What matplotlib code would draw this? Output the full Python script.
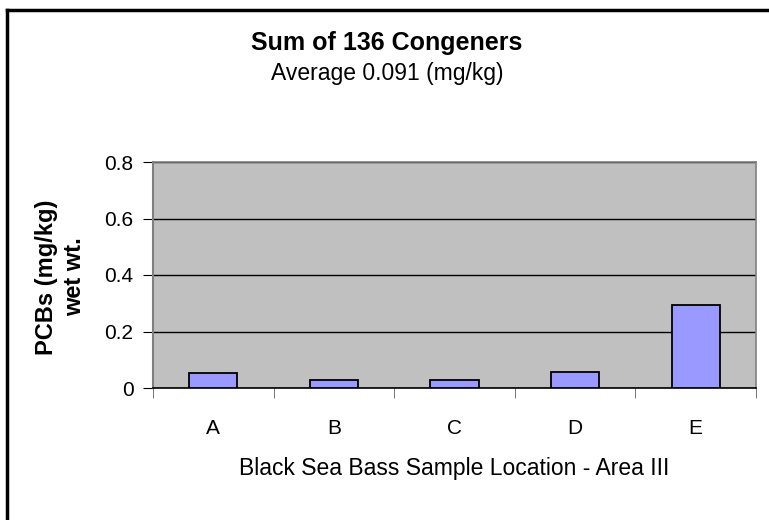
import matplotlib.pyplot as plt
from matplotlib.lines import Line2D
import numpy as np

plt.rcParams['font.family'] = ['Liberation Sans', 'DejaVu Sans']

locations = ['A', 'B', 'C', 'D', 'E']
pcbs = [0.053, 0.030, 0.028, 0.058, 0.293]
yticks = [0, 0.2, 0.4, 0.6, 0.8]
ytick_labels = ['0', '0.2', '0.4', '0.6', '0.8']

fig = plt.figure(figsize=(7.69, 5.2), dpi=100)
ax = fig.add_axes([153/769, 1-388/520, (756-153)/769, (388-162)/520])
ax.set_facecolor('#C0C0C0')

x = np.arange(len(locations))
ax.bar(x, pcbs, width=0.4, color='#9999FF', edgecolor='black', linewidth=1.3, zorder=3)

ax.set_ylim(0, 0.8)
ax.set_xlim(-0.5, len(locations) - 0.5)
ax.set_yticks(yticks)
ax.set_yticklabels(ytick_labels)
ax.yaxis.grid(True, color='black', linewidth=1, zorder=1)
ax.set_axisbelow(True)

ax.set_xticks(x)
ax.set_xticklabels(locations)
ax.set_xticks(np.arange(-0.5, len(locations)), minor=True)
ax.tick_params(axis='x', which='major', length=0, pad=22, labelsize=15)
ax.tick_params(axis='x', which='minor', length=7, direction='out', color='#606060')
ax.tick_params(axis='y', length=7, direction='out', pad=7, labelsize=15, color='black')

for s in ['top', 'right']:
    ax.spines[s].set_color('#808080')
    ax.spines[s].set_linewidth(1.2)
ax.spines['left'].set_color('#808080')
ax.spines['left'].set_linewidth(1.5)
ax.spines['bottom'].set_color('black')
ax.spines['bottom'].set_linewidth(1.2)

ax.set_xlabel('Black Sea Bass Sample Location - Area III', fontsize=16.5, labelpad=14)
fig.text(47/769, 1-277/520, 'PCBs (mg/kg)', rotation=90, fontsize=17, fontweight='bold',
         ha='center', va='center')
fig.text(75/769, 1-277/520, 'wet wt.', rotation=90, fontsize=17, fontweight='bold',
         ha='center', va='center')

fig.text(387/769, 1-43/520, 'Sum of 136 Congeners', fontsize=18, fontweight='bold',
         ha='center', va='center')
fig.text(387/769, 1-74/520, 'Average 0.091 (mg/kg)', fontsize=16.5,
         ha='center', va='center')

# chart border (cropped at right and bottom)
fig.add_artist(Line2D([7/769, 1], [1-10/520, 1-10/520], color='black', linewidth=2.5))
fig.add_artist(Line2D([7/769, 7/769], [0, 1-10/520], color='black', linewidth=2.5))

fig.savefig('out.png', dpi=100)
